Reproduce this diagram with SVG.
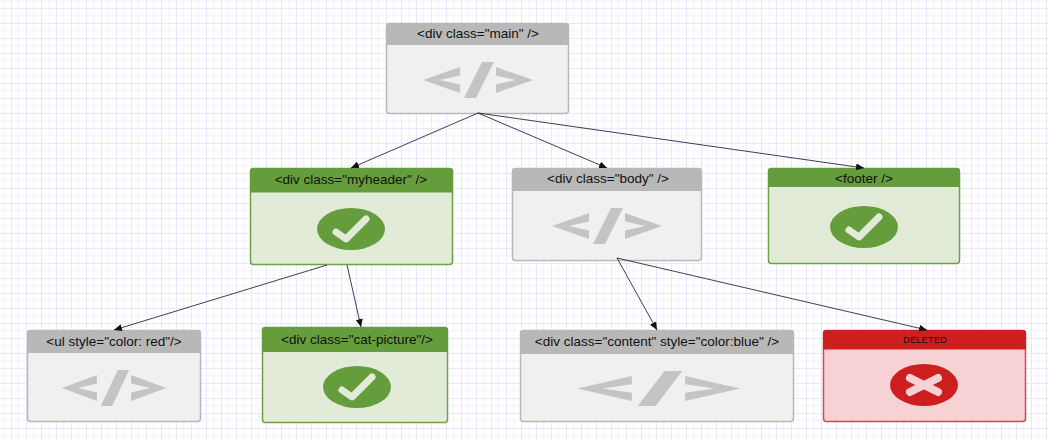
<svg xmlns="http://www.w3.org/2000/svg" xmlns:xlink="http://www.w3.org/1999/xlink" width="1048" height="441" viewBox="0 0 1048 441">
<style>
text{font-family:"Liberation Sans",Arial,sans-serif;font-size:13.5px;fill:#111;text-anchor:middle}
.conn{stroke:#2a2a3a;stroke-width:.9;fill:none;marker-end:url(#arrow)}
.n .box{fill:#f0f0f0;stroke:#b8b8b8;stroke-width:1.5}
.n .hd{fill:#b8b8b8}
.g .box{fill:#e2ebd8;stroke:#6fa04a;stroke-width:1.5}
.g .hd{fill:#659d3c}
.r .box{fill:#f6d2d5;stroke:#d9474c;stroke-width:1.5}
.r .hd{fill:#cd1f20}
.code{fill:#c4c4c4}
</style>
<defs>
<pattern id="grid" width="15" height="15" patternUnits="userSpaceOnUse" x="11" y="8">
<rect width="15" height="15" fill="#fff"/>
<path d="M7.500 0V15M0 7.500H15" stroke="#f7f6ff" stroke-width="1.500" fill="none"/>
<path d="M.5 0V15M0 .5H15" stroke="#e9e7fb" stroke-width="1" fill="none"/>
</pattern>
<marker id="arrow" markerUnits="userSpaceOnUse" markerWidth="9" markerHeight="8" refX="8" refY="3.5" orient="auto">
<path d="M0 0L8 3.5L0 7Z" fill="#111"/>
</marker>
<g id="code" class="code">
<path d="M-55 0L-18 -13V-4.500L-38 0L-18 4.500V13Z"/>
<path d="M4 -18H16L-2 18H-14Z"/>
<path d="M55 0L18 -13V-4.500L38 0L18 4.500V13Z"/>
</g>
<g id="ok">
<ellipse rx="34" ry="21" fill="#659d3c"/>
<path d="M-15 3L-5 10L15 -10" fill="none" stroke="#e2ebd8" stroke-width="7" stroke-linecap="round" stroke-linejoin="round"/>
</g>
<g id="bad">
<ellipse rx="34" ry="21" fill="#cd1f20"/>
<path d="M-14 -7L14 7M-14 7L14 -7" fill="none" stroke="#f6d2d5" stroke-width="8" stroke-linecap="round"/>
</g>
</defs>
<rect id="background" width="1048" height="441" fill="url(#grid)"/>
<g id="node-main" class="n">
<rect class="box" x="386.500" y="23.500" width="182" height="90" rx="3"/>
<path class="hd" d="M386 45V26a3 3 0 0 1 3-3H566a3 3 0 0 1 3 3V45Z"/>
<text x="478" y="38">&lt;div class="main" /&gt;</text>
<use xlink:href="#code" href="#code" transform="translate(478 80)"/>
</g>
<g id="node-myheader" class="g">
<rect class="box" x="250.500" y="168.500" width="202" height="96" rx="3"/>
<path class="hd" d="M250 192.500V171a3 3 0 0 1 3-3H450a3 3 0 0 1 3 3V192.500Z"/>
<text x="351" y="184">&lt;div class="myheader" /&gt;</text>
<use xlink:href="#ok" href="#ok" transform="translate(351 229)"/>
</g>
<g id="node-body" class="n">
<rect class="box" x="512.500" y="168.500" width="189" height="92" rx="3"/>
<path class="hd" d="M512 191V171a3 3 0 0 1 3-3H699a3 3 0 0 1 3 3V191Z"/>
<text x="608" y="183">&lt;div class="body" /&gt;</text>
<use xlink:href="#code" href="#code" transform="translate(607 226)"/>
</g>
<g id="node-footer" class="g">
<rect class="box" x="768.500" y="168.500" width="191" height="95" rx="3"/>
<path class="hd" d="M768 187V171a3 3 0 0 1 3-3H957a3 3 0 0 1 3 3V187Z"/>
<text x="864" y="183">&lt;footer /&gt;</text>
<use xlink:href="#ok" href="#ok" transform="translate(864 227)"/>
</g>
<g id="node-ul" class="n">
<rect class="box" x="27.500" y="330.500" width="173" height="91" rx="3"/>
<path class="hd" d="M27 353V333a3 3 0 0 1 3-3H198a3 3 0 0 1 3 3V353Z"/>
<text x="114" y="346">&lt;ul style="color: red"/&gt;</text>
<use xlink:href="#code" href="#code" transform="translate(114 388) scale(.95 1)"/>
</g>
<g id="node-cat" class="g">
<rect class="box" x="262.500" y="327.500" width="185" height="95" rx="3"/>
<path class="hd" d="M262 352V330a3 3 0 0 1 3-3H445a3 3 0 0 1 3 3V352Z"/>
<text x="357" y="344">&lt;div class="cat-picture"/&gt;</text>
<use xlink:href="#ok" href="#ok" transform="translate(357 387)"/>
</g>
<g id="node-content" class="n">
<rect class="box" x="520.500" y="330.500" width="273" height="91" rx="3"/>
<path class="hd" d="M520 354V333a3 3 0 0 1 3-3H791a3 3 0 0 1 3 3V354Z"/>
<text x="657" y="346">&lt;div class="content" style="color:blue" /&gt;</text>
<use xlink:href="#code" href="#code" transform="translate(658.500 388.500) scale(1.48 .97)"/>
</g>
<g id="node-deleted" class="r">
<rect class="box" x="823.500" y="330.500" width="202" height="91" rx="3"/>
<path class="hd" d="M823 349.500V333a3 3 0 0 1 3-3H1023a3 3 0 0 1 3 3V349.500Z"/>
<text x="925" y="343" style="font-size:9.5px">DELETED</text>
<use xlink:href="#bad" href="#bad" transform="translate(924 385)"/>
</g>
<g id="connectors">
<path class="conn" d="M478 113L351 168"/>
<path class="conn" d="M478 113L607 168"/>
<path class="conn" d="M478 113L864 168"/>
<path class="conn" d="M327 265L114 330"/>
<path class="conn" d="M347 265L361 327"/>
<path class="conn" d="M617 258L657 330"/>
<path class="conn" d="M617 258L927 330"/>
</g>
</svg>
